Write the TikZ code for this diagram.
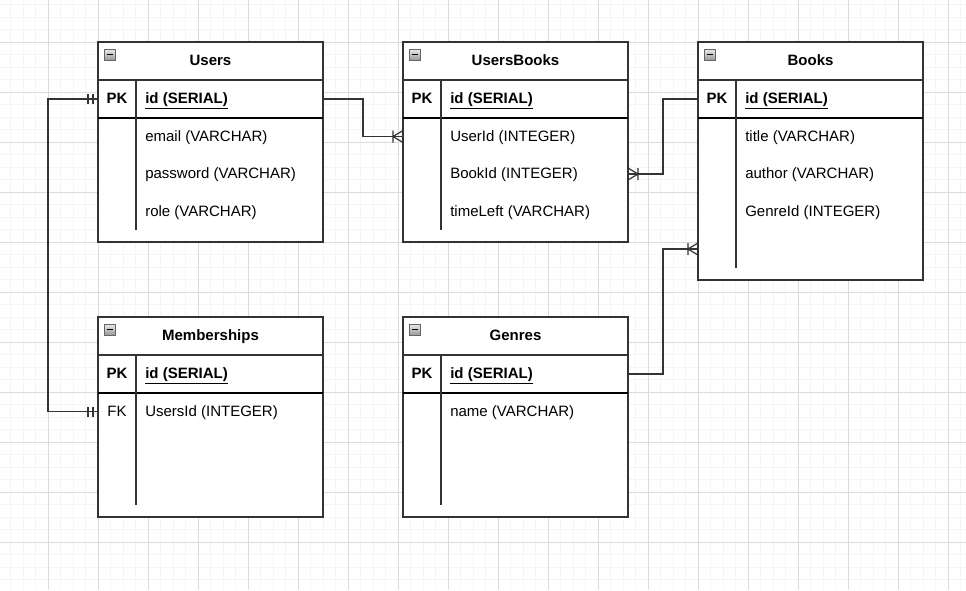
\documentclass[tikz,border=0pt]{standalone}
\usepackage{fontspec}
\setmainfont{Liberation Sans}
\usetikzlibrary{calc}
\usetikzlibrary{positioning}
\newcommand\erfont{\fontsize{11.25pt}{13.5pt}\selectfont}
\tikzstyle{table}=[draw=black!80,line width=0.9pt,fill=white,inner sep=0pt,outer sep=0pt,minimum width=225*0.75pt,anchor=north west]
\tikzstyle{tableline}=[draw=black!80,line width=0.9pt]
\tikzstyle{pkline}=[draw=black,line width=1.2pt]
\tikzstyle{rowbox}=[inner sep=0pt,outer sep=0pt,minimum width=225*0.75pt,minimum height=37.5*0.75pt]
\tikzstyle{title}=[font=\erfont\bfseries,inner sep=0pt,text height=0.905em,text depth=0.212em]
\tikzstyle{keytag}=[inner sep=0pt,text height=0.905em,text depth=0.212em]
\tikzstyle{field}=[anchor=west,inner sep=0pt,text height=0.905em,text depth=0.212em]
\tikzstyle{conn}=[draw=black!80,line width=0.9pt]
\tikzstyle{minorgrid}=[draw=black!4,line width=0.75pt]
\tikzstyle{majorgrid}=[draw=black!14,line width=0.75pt]
\tikzstyle{iconbox}=[draw=black!60,line width=0.6pt,top color=black!8,bottom color=black!40]
\tikzset{
  crowsfoot/.pic={\draw[conn] (-10,0) -- (0,-6) (-10,0) -- (0,6) (-10,-6) -- (-10,6);},
  mandone/.pic={\draw[conn] (-10,-5) -- (-10,5) (-5,-5) -- (-5,5);}
}

\begin{document}
\begin{tikzpicture}[x=0.75pt,y=-0.75pt,font=\erfont]
    \useasboundingbox (0,0) rectangle (966,590);
    \fill[white] (0,0) rectangle (966,590);
    % background grid
    \foreach \g in {-2,10.5,...,966} \draw[minorgrid] (\g,0) -- (\g,590);
    \foreach \g in {4.5,17,...,590} \draw[minorgrid] (0,\g) -- (966,\g);
    \foreach \g in {48,98,...,948} \draw[majorgrid] (\g,0) -- (\g,590);
    \foreach \g in {42,92,...,542} \draw[majorgrid] (0,\g) -- (966,\g);

    % First we draw the tables
    \foreach \name/\tx/\ty/\th in {Users/98/42/200, UsersBooks/403/42/200, Books/698/42/238, Memberships/98/317/200, Genres/403/317/200}
    {
        \node[table,minimum height=\th*0.75pt] (\name) at (\tx,\ty) {};
        \node[title] (\name-title) at (\tx+112.5,\ty+19) {\name};
        \draw[tableline] (\tx,\ty+38) -- (\tx+225,\ty+38);
        \draw[pkline] (\tx,\ty+76) -- (\tx+225,\ty+76);
        \draw[tableline] (\tx+38,\ty+38) -- (\tx+38,\ty+\th-12);
        \draw[iconbox] (\tx+6,\ty+7) rectangle (\tx+17,\ty+18);
        \draw[line width=0.8pt,black] (\tx+8.5,\ty+12.5) -- (\tx+14.5,\ty+12.5);
    }

    % primary key rows
    \foreach \tab in {Users, UsersBooks, Books, Memberships, Genres}
    {
        \node[rowbox] (\tab-id) at ($(\tab.north west)+(112.5,57)$) {};
        \node[keytag,font=\erfont\bfseries] (\tab-id-tag) at ($(\tab.north west)+(19,57)$) {PK};
        \node[field,font=\erfont\bfseries] (\tab-id-text) at ($(\tab.north west)+(47,57)$) {\underline{id (SERIAL)}};
    }

    % the other rows
    \foreach \tab/\key/\n/\tag/\label in {Users/email/1/{}/email (VARCHAR), Users/password/2/{}/password (VARCHAR), Users/role/3/{}/role (VARCHAR),
        UsersBooks/UserId/1/{}/UserId (INTEGER), UsersBooks/BookId/2/{}/BookId (INTEGER), UsersBooks/timeLeft/3/{}/timeLeft (VARCHAR),
        Books/title/1/{}/title (VARCHAR), Books/author/2/{}/author (VARCHAR), Books/GenreId/3/{}/GenreId (INTEGER), Books/r4/4/{}/{},
        Memberships/UsersId/1/FK/UsersId (INTEGER), Genres/name/1/{}/name (VARCHAR)}
    {
        \node[rowbox] (\tab-\key) at ($(\tab.north west)+(112.5,57+37.5*\n)$) {};
        \node[keytag] (\tab-\key-tag) at ($(\tab.north west)+(19,57+37.5*\n)$) {\tag};
        \node[field] (\tab-\key-text) at ($(\tab.north west)+(47,57+37.5*\n)$) {\label};
    }

    % Connect tables with relations
    \draw[conn] (Users-id.east) -- ++(40,0) |- (UsersBooks-UserId.west);
    \draw[conn] (Books-id.west) -- ++(-35,0) |- (UsersBooks-BookId.east);
    \draw[conn] (Genres-id.east) -- ++(35,0) |- (Books-r4.west);
    \draw[conn] (Users-id.west) -- ++(-50,0) |- (Memberships-UsersId.west);

    % relation ends
    \pic at (UsersBooks-UserId.west) {crowsfoot};
    \pic[rotate=180] at (UsersBooks-BookId.east) {crowsfoot};
    \pic at (Books-r4.west) {crowsfoot};
    \pic at (Users-id.west) {mandone};
    \pic at (Memberships-UsersId.west) {mandone};
\end{tikzpicture}
\end{document}
